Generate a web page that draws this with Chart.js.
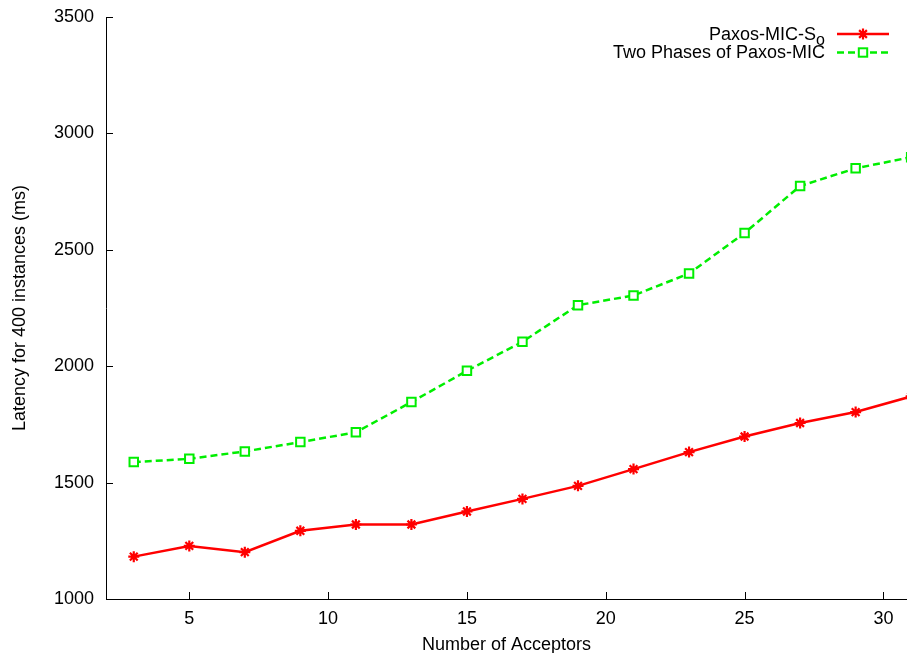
<!DOCTYPE html>
<html>
<head>
<meta charset="utf-8">
<script src="https://cdn.jsdelivr.net/npm/chart.js@4.4.0/dist/chart.umd.min.js"></script>
<style>
  html, body { margin: 0; padding: 0; background: #fff; }
  #wrap { width: 907px; height: 653px; position: relative; }
</style>
</head>
<body>
<div id="wrap"><canvas id="c" width="907" height="653"></canvas></div>
<script>
// ---- data ----
const acceptors = [3, 5, 7, 9, 11, 13, 15, 17, 19, 21, 23, 25, 27, 29, 31];
const paxosMicSo = [1182, 1228, 1201, 1293, 1320, 1320, 1376, 1430, 1486, 1558, 1631, 1698, 1756, 1803, 1870];
const twoPhases = [1588, 1602, 1634, 1674, 1716, 1846, 1980, 2105, 2262, 2304, 2398, 2572, 2774, 2850, 2898];
const xTicks = [5, 10, 15, 20, 25, 30];
const yTicks = [1000, 1500, 2000, 2500, 3000, 3500];
const seriesNames = ['Paxos-MIC-S\u2092', 'Two Phases of Paxos-MIC'];
const legendParts = [['Paxos-MIC-S', 'o'], ['Two Phases of Paxos-MIC', '']];
const xTitle = 'Number of Acceptors';
const yTitle = 'Latency for 400 instances (ms)';

const RED = '#ff0000';
const GREEN = '#00ee00';
const FONT = '"Liberation Sans", Arial, Helvetica, sans-serif';

Chart.defaults.font.family = FONT;
Chart.defaults.font.size = 18;
Chart.defaults.color = '#000';

const toXY = (xs, ys) => xs.map((x, i) => ({ x: x, y: ys[i] }));

const inwardTicks = {
  id: 'inwardTicks',
  beforeDatasetsDraw(chart) {
    const ctx = chart.ctx;
    const xs = chart.scales.x, ys = chart.scales.y;
    const a = chart.chartArea;
    const L = 7;
    ctx.save();
    ctx.strokeStyle = '#000';
    ctx.lineWidth = 1;
    ctx.beginPath();
    yTicks.forEach(v => {
      const py = Math.round(ys.getPixelForValue(v)) + 0.5;
      ctx.moveTo(a.left, py); ctx.lineTo(a.left + L, py);
    });
    xTicks.forEach(v => {
      const px = Math.round(xs.getPixelForValue(v)) + 0.5;
      ctx.moveTo(px, a.bottom); ctx.lineTo(px, a.bottom - L);
    });
    ctx.stroke();
    ctx.restore();
  }
};

function drawStar(ctx, x, y, r) {
  ctx.beginPath();
  ctx.moveTo(x - r, y); ctx.lineTo(x + r, y);
  ctx.moveTo(x, y - r); ctx.lineTo(x, y + r);
  const d = r * Math.SQRT1_2;
  ctx.moveTo(x - d, y - d); ctx.lineTo(x + d, y + d);
  ctx.moveTo(x - d, y + d); ctx.lineTo(x + d, y - d);
  ctx.stroke();
}

const customLegend = {
  id: 'customLegend',
  afterDraw(chart) {
    const ctx = chart.ctx;
    const textRight = 825;
    const lineL = 837, lineR = 889, mid = 863;
    ctx.save();
    // row 1
    const ds0 = chart.data.datasets[0];
    ctx.textAlign = 'right';
    ctx.textBaseline = 'alphabetic';
    ctx.fillStyle = '#000';
    ctx.font = '16px ' + FONT;
    const subW = ctx.measureText(legendParts[0][1]).width;
    ctx.fillText(legendParts[0][1], textRight, 44.5);
    ctx.font = '18px ' + FONT;
    ctx.fillText(legendParts[0][0], textRight - subW, 39.5);
    ctx.strokeStyle = ds0.borderColor;
    ctx.lineWidth = ds0.borderWidth;
    ctx.beginPath(); ctx.moveTo(lineL, 34); ctx.lineTo(lineR, 34); ctx.stroke();
    ctx.lineWidth = ds0.pointBorderWidth;
    drawStar(ctx, mid, 34, ds0.pointRadius);
    // row 2
    const ds1 = chart.data.datasets[1];
    ctx.font = '18px ' + FONT;
    ctx.fillText(legendParts[1][0], textRight, 58);
    ctx.strokeStyle = ds1.borderColor;
    ctx.lineWidth = ds1.borderWidth;
    ctx.setLineDash(ds1.borderDash);
    ctx.beginPath(); ctx.moveTo(lineL, 52.5); ctx.lineTo(lineR, 52.5); ctx.stroke();
    ctx.setLineDash([]);
    ctx.lineWidth = ds1.pointBorderWidth;
    const s = 4.2;
    ctx.fillStyle = '#fff';
    ctx.fillRect(mid - s, 52.5 - s, 2 * s, 2 * s);
    ctx.strokeRect(mid - s, 52.5 - s, 2 * s, 2 * s);
    ctx.restore();
  }
};

new Chart(document.getElementById('c'), {
  type: 'line',
  data: {
    datasets: [
      {
        label: seriesNames[0],
        data: toXY(acceptors, paxosMicSo),
        borderColor: RED,
        backgroundColor: RED,
        borderWidth: 2.5,
        pointStyle: 'star',
        pointRadius: 5.5,
        pointBorderWidth: 2.2,
        pointBorderColor: RED,
        pointBackgroundColor: RED,
        tension: 0,
        clip: false
      },
      {
        label: seriesNames[1],
        data: toXY(acceptors, twoPhases),
        borderColor: GREEN,
        backgroundColor: '#fff',
        borderWidth: 2.5,
        borderDash: [7, 4],
        pointStyle: 'rect',
        pointRadius: 6,
        pointBorderWidth: 2,
        pointBorderColor: GREEN,
        pointBackgroundColor: '#fff',
        tension: 0,
        clip: false
      }
    ]
  },
  options: {
    responsive: false,
    animation: false,
    events: [],
    layout: { autoPadding: false, padding: { top: 17, right: 0, bottom: 0, left: 0 } },
    plugins: {
      legend: { display: false },
      tooltip: { enabled: false }
    },
    scales: {
      x: {
        type: 'linear',
        min: 2,
        max: 30.85,
        grid: { display: false, drawTicks: false },
        border: { display: true, color: '#000', width: 1 },
        ticks: { padding: 9, maxRotation: 0, autoSkip: false, color: '#000', callback: v => String(v) },
        afterBuildTicks(scale) { scale.ticks = xTicks.map(v => ({ value: v })); },
        afterFit(scale) { scale.height = 54; scale.paddingLeft = 0; scale.paddingRight = 0; },
        title: { display: true, text: xTitle, color: '#000', padding: { top: 0, bottom: -3 }, font: { size: 18 } }
      },
      y: {
        type: 'linear',
        min: 1000,
        max: 3500,
        grid: { display: false, drawTicks: false },
        border: { display: true, color: '#000', width: 1 },
        ticks: { padding: 12, color: '#000', callback: v => String(v) },
        afterBuildTicks(scale) { scale.ticks = yTicks.map(v => ({ value: v })); },
        afterFit(scale) { scale.width = 106; scale.paddingTop = 0; scale.paddingBottom = 0; },
        title: { display: true, text: yTitle, color: '#000', padding: { top: 9, bottom: 0 }, font: { size: 18 } }
      }
    }
  },
  plugins: [inwardTicks, customLegend]
});
</script>
</body>
</html>
